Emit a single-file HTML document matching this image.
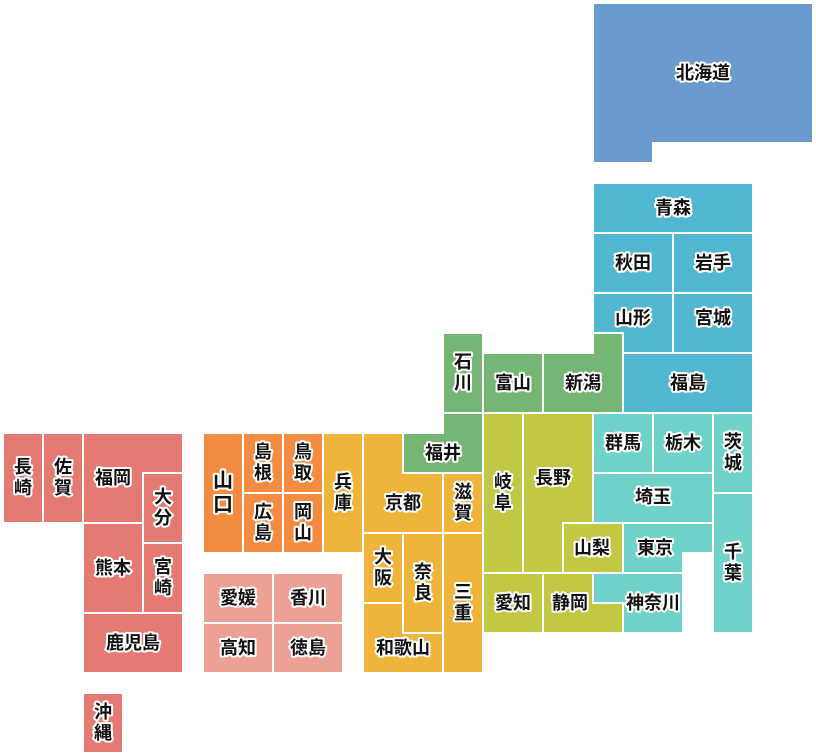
<!DOCTYPE html>
<html><head><meta charset="utf-8"><style>
html,body{margin:0;padding:0;background:#fff}
svg{display:block}
text{font-family:"Liberation Sans","Noto Sans CJK JP",sans-serif;font-weight:bold;font-size:18px;fill:#111;stroke:#fff;stroke-width:4px;paint-order:stroke;stroke-linejoin:round;text-anchor:middle;dominant-baseline:central}
.s{stroke:#fff;stroke-width:2}
</style></head><body>
<svg width="816" height="756" viewBox="0 0 816 756">
<g class="s">
<polygon fill="#6a9bcc" points="593,3 813,3 813,143 653,143 653,163 593,163"/>
<g fill="#52b8d1">
<rect x="593" y="183" width="160" height="50"/>
<rect x="593" y="233" width="80" height="60"/>
<rect x="673" y="233" width="80" height="60"/>
<rect x="593" y="293" width="80" height="60"/>
<rect x="673" y="293" width="80" height="60"/>
<rect x="623" y="353" width="130" height="60"/>
</g>
<g fill="#76b674">
<rect x="443" y="333" width="40" height="80"/>
<rect x="483" y="353" width="60" height="60"/>
<polygon points="543,353 593,353 593,333 623,333 623,413 543,413"/>
<polygon points="403,433 443,433 443,413 483,413 483,473 403,473"/>
</g>
<g fill="#c2c844">
<rect x="483" y="413" width="40" height="160"/>
<polygon points="523,413 593,413 593,523 563,523 563,573 523,573"/>
<rect x="563" y="523" width="60" height="50"/>
<rect x="483" y="573" width="60" height="60"/>
<polygon points="543,573 593,573 593,603 623,603 623,633 543,633"/>
</g>
<g fill="#70d3c9">
<rect x="593" y="413" width="60" height="60"/>
<rect x="653" y="413" width="60" height="60"/>
<rect x="713" y="413" width="40" height="80"/>
<rect x="593" y="473" width="120" height="50"/>
<rect x="713" y="493" width="40" height="140"/>
<polygon points="623,523 713,523 713,553 683,553 683,573 623,573"/>
<polygon points="593,573 683,573 683,633 623,633 623,603 593,603"/>
</g>
<g fill="#eeb53a">
<rect x="323" y="433" width="40" height="120"/>
<polygon points="363,433 403,433 403,473 443,473 443,533 363,533"/>
<rect x="443" y="473" width="40" height="60"/>
<rect x="363" y="533" width="40" height="70"/>
<rect x="403" y="533" width="40" height="100"/>
<rect x="443" y="533" width="40" height="140"/>
<polygon points="363,603 403,603 403,633 443,633 443,673 363,673"/>
</g>
<g fill="#f38c40">
<rect x="203" y="433" width="40" height="120"/>
<rect x="243" y="433" width="40" height="60"/>
<rect x="283" y="433" width="40" height="60"/>
<rect x="243" y="493" width="40" height="60"/>
<rect x="283" y="493" width="40" height="60"/>
</g>
<g fill="#eda195">
<rect x="203" y="573" width="70" height="50"/>
<rect x="273" y="573" width="70" height="50"/>
<rect x="203" y="623" width="70" height="50"/>
<rect x="273" y="623" width="70" height="50"/>
</g>
<g fill="#e57a73">
<rect x="3" y="433" width="40" height="90"/>
<rect x="43" y="433" width="40" height="90"/>
<polygon points="83,433 183,433 183,473 143,473 143,523 83,523"/>
<rect x="143" y="473" width="40" height="70"/>
<rect x="83" y="523" width="60" height="90"/>
<rect x="143" y="543" width="40" height="70"/>
<rect x="83" y="613" width="100" height="60"/>
<rect x="83" y="693" width="40" height="60"/>
</g>
</g>
<g>
<text x="703" y="73">北海道</text>
<text x="673" y="208">青森</text>
<text x="633" y="263">秋田</text>
<text x="713" y="263">岩手</text>
<text x="633" y="318">山形</text>
<text x="713" y="318">宮城</text>
<text x="688" y="383">福島</text>
<text x="463" y="362">石</text><text x="463" y="383">川</text>
<text x="513" y="383">富山</text>
<text x="583" y="383">新潟</text>
<text x="443" y="453">福井</text>
<text x="623" y="443">群馬</text>
<text x="683" y="443">栃木</text>
<text x="733" y="442">茨</text><text x="733" y="463">城</text>
<text x="653" y="497">埼玉</text>
<text x="733" y="552">千</text><text x="733" y="573">葉</text>
<text x="655" y="548">東京</text>
<text x="592" y="548">山梨</text>
<text x="653" y="603">神奈川</text>
<text x="503" y="482">岐</text><text x="503" y="503">阜</text>
<text x="553" y="478">長野</text>
<text x="513" y="603">愛知</text>
<text x="570" y="603">静岡</text>
<text x="403" y="503">京都</text>
<text x="463" y="492">滋</text><text x="463" y="513">賀</text>
<text x="383" y="557">大</text><text x="383" y="578">阪</text>
<text x="423" y="572">奈</text><text x="423" y="593">良</text>
<text x="463" y="592">三</text><text x="463" y="613">重</text>
<text x="403" y="648">和歌山</text>
<text x="343" y="482">兵</text><text x="343" y="503">庫</text>
<text x="223" y="481" style="font-size:20px">山</text><text x="223" y="505" style="font-size:20px">口</text>
<text x="263" y="452">島</text><text x="263" y="473">根</text>
<text x="303" y="452">鳥</text><text x="303" y="473">取</text>
<text x="263" y="512">広</text><text x="263" y="533">島</text>
<text x="303" y="512">岡</text><text x="303" y="533">山</text>
<text x="238" y="598">愛媛</text>
<text x="308" y="598">香川</text>
<text x="238" y="648">高知</text>
<text x="308" y="648">徳島</text>
<text x="23" y="467">長</text><text x="23" y="488">崎</text>
<text x="63" y="467">佐</text><text x="63" y="488">賀</text>
<text x="113" y="478">福岡</text>
<text x="163" y="497">大</text><text x="163" y="518">分</text>
<text x="113" y="568">熊本</text>
<text x="163" y="567">宮</text><text x="163" y="588">崎</text>
<text x="133" y="643">鹿児島</text>
<text x="103" y="712">沖</text><text x="103" y="733">縄</text>
</g>
</svg>
</body></html>
